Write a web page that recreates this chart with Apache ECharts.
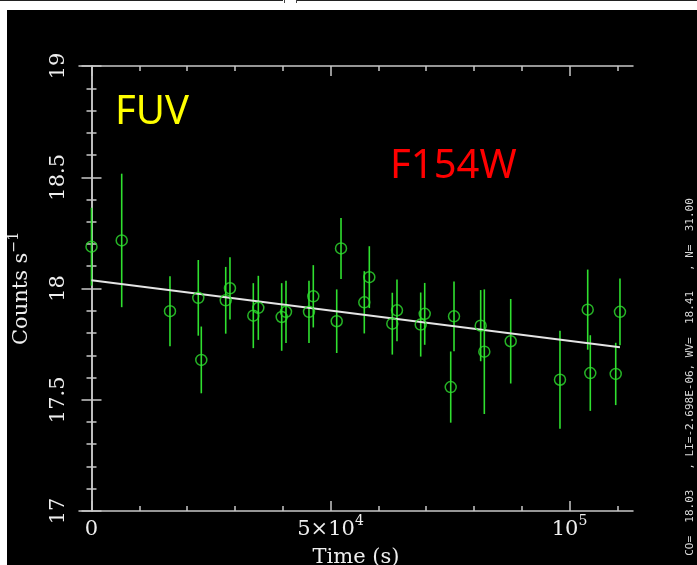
<!DOCTYPE html>
<html><head><meta charset="utf-8">
<script src="https://cdn.jsdelivr.net/npm/echarts@6/dist/echarts.min.js"></script>
<style>html,body{margin:0;padding:0;background:#fff;} #c{width:697px;height:565px;}</style>
</head><body><div id="c"></div>
<script>
// ---- data ----
const times  = [0, 6320, 16420, 22340, 22970, 28080, 28970, 33850, 34900, 39790, 40690,
                45500, 46400, 51300, 52200, 57070, 58120, 62930, 63910, 68870, 69710,
                75150, 75840, 81420, 82180, 87700, 98010, 103810, 104350, 109670, 110560];
const counts = [18.188, 18.216, 17.898, 17.958, 17.679, 17.947, 18.001, 17.878, 17.913, 17.872, 17.895,
                17.895, 17.965, 17.853, 18.180, 17.938, 18.051, 17.842, 17.902, 17.838, 17.886,
                17.557, 17.875, 17.833, 17.716, 17.763, 17.590, 17.905, 17.620, 17.616, 17.895];
const errors = [0.175, 0.30, 0.157, 0.17, 0.15, 0.15, 0.14, 0.146, 0.144, 0.152, 0.14,
                0.14, 0.14, 0.143, 0.137, 0.14, 0.139, 0.139, 0.139, 0.144, 0.139,
                0.16, 0.157, 0.16, 0.28, 0.19, 0.22, 0.18, 0.17, 0.14, 0.15];
const fitTimes  = [0, 110560];
const fitCounts = [18.037, 17.736];
const xMajorTicks = [0, 50000, 100000];
const xTickLabels = ['{a|0}', '{a|5×10}{sup|4}', '{a|10}{sup|5}'];
const xMinorTicks = [10000, 20000, 30000, 40000, 60000, 70000, 80000, 90000, 110000];
const xRange = [-2615, 113285];
const yRange = [17, 19];
const yStep = 0.5;
const statsText = 'CO=  18.03   , LI=-2.698E-06, WV=  18.41   , N=  31.00';

const frameColor = '#c8c8c8';
const serif = '"DejaVu Serif", serif';

const pts = times.map((t, i) => [t, counts[i]]);
const bars = times.map((t, i) => [t, counts[i] - errors[i], counts[i] + errors[i]]);
const fit = fitTimes.map((t, i) => [t, fitCounts[i]]);

function xAxisDef(pos, ticks, len, withLine, withLabel) {
  return {
    type: 'value', position: pos, min: xRange[0], max: xRange[1],
    axisLine: {show: withLine, lineStyle: {color: frameColor, width: 1.5}},
    axisTick: {show: true, inside: true, length: len, customValues: ticks,
               lineStyle: {color: frameColor, width: 1.5}},
    axisLabel: withLabel ? {
      show: true, customValues: xMajorTicks, margin: 3,
      formatter: v => xTickLabels[xMajorTicks.indexOf(v)] || '',
      rich: {
        a: {fontFamily: serif, fontSize: 21, color: '#eeeeee', lineHeight: 32},
        sup: {fontFamily: serif, fontSize: 14, color: '#eeeeee', lineHeight: 10, verticalAlign: 'top'}
      }
    } : {show: false},
    splitLine: {show: false}
  };
}

const chart = echarts.init(document.getElementById('c'), null, {renderer: 'canvas'});
chart.setOption({
  animation: false,
  backgroundColor: '#000',
  grid: {left: 79, right: 64, top: 66, bottom: 54, containLabel: false, outerBoundsMode: 'none'},
  xAxis: [
    Object.assign(xAxisDef('bottom', xMajorTicks, 10, true, true), {
      name: 'Time (s)', nameLocation: 'middle', nameGap: 36,
      nameTextStyle: {fontFamily: serif, fontSize: 21, color: '#eeeeee'}
    }),
    xAxisDef('bottom', xMinorTicks, 5, false, false),
    xAxisDef('top', xMajorTicks, 10, true, false),
    xAxisDef('top', xMinorTicks, 5, false, false)
  ],
  yAxis: [
    {
      type: 'value', position: 'left', min: yRange[0], max: yRange[1], interval: yStep,
      axisLine: {show: true, lineStyle: {color: frameColor, width: 1.5}},
      axisTick: {show: true, inside: true, length: 10, lineStyle: {color: frameColor, width: 1.5}},
      minorTick: {show: true, splitNumber: 5, length: 5, lineStyle: {color: frameColor, width: 1.5}},
      axisLabel: {show: true, rotate: 90, margin: 10, fontFamily: serif, fontSize: 21, color: '#eeeeee'},
      splitLine: {show: false},
      name: '{a|Counts s}{sup|−1}', nameLocation: 'middle', nameRotate: 90, nameGap: 42,
      nameTextStyle: {
        rich: {
          a: {fontFamily: serif, fontSize: 21, color: '#eeeeee', lineHeight: 30},
          sup: {fontFamily: serif, fontSize: 14, color: '#eeeeee', lineHeight: 10, verticalAlign: 'top'}
        }
      }
    },
    {
      type: 'value', position: 'right', min: yRange[0], max: yRange[1], interval: yStep,
      axisLine: {show: true, lineStyle: {color: frameColor, width: 1.5}},
      axisTick: {show: true, inside: true, length: 10, lineStyle: {color: frameColor, width: 1.5}},
      minorTick: {show: true, splitNumber: 5, length: 5, lineStyle: {color: frameColor, width: 1.5}},
      axisLabel: {show: false},
      splitLine: {show: false}
    }
  ],
  series: [
    {
      type: 'custom', xAxisIndex: 0, yAxisIndex: 0, z: 2, data: bars,
      renderItem: (params, api) => {
        const lo = api.coord([api.value(0), api.value(1)]);
        const hi = api.coord([api.value(0), api.value(2)]);
        return {type: 'line', shape: {x1: lo[0], y1: lo[1], x2: hi[0], y2: hi[1]},
                style: {stroke: '#2fe02f', lineWidth: 1.6}};
      }
    },
    {
      type: 'line', xAxisIndex: 0, yAxisIndex: 0, z: 3, data: fit, showSymbol: false,
      symbol: 'none', lineStyle: {color: '#e4e4e4', width: 1.8}
    },
    {
      type: 'scatter', xAxisIndex: 0, yAxisIndex: 0, z: 4, data: pts,
      symbol: 'circle', symbolSize: 11,
      itemStyle: {color: 'rgba(0,0,0,0)', borderColor: '#2fe02f', borderWidth: 1.5}
    }
  ],
  graphic: [
    {type: 'rect', shape: {x: 0, y: 0, width: 697, height: 10}, style: {fill: '#fff'}, z: 0},
    {type: 'rect', shape: {x: 0, y: 0, width: 7, height: 565}, style: {fill: '#fff'}, z: 0},
    {type: 'line', shape: {x1: 0, y1: 0.5, x2: 283, y2: 0.5}, style: {stroke: '#222', lineWidth: 1}},
    {type: 'line', shape: {x1: 297, y1: 0.5, x2: 697, y2: 0.5}, style: {stroke: '#222', lineWidth: 1}},
    {type: 'line', shape: {x1: 284.5, y1: 0, x2: 284.5, y2: 3}, style: {stroke: '#444', lineWidth: 1}},
    {type: 'line', shape: {x1: 296.5, y1: 0, x2: 296.5, y2: 3}, style: {stroke: '#444', lineWidth: 1}},
    {type: 'text', x: 115, y: 113, style: {text: 'FUV', fill: '#ffff00',
      font: '40px "Noto Sans"', align: 'left', verticalAlign: 'middle'}},
    {type: 'text', x: 390, y: 167, style: {text: 'F154W', fill: '#ff0000',
      font: '40px "Noto Sans"', align: 'left', verticalAlign: 'middle'}},
    {type: 'text', x: 690, y: 377, rotation: Math.PI / 2, style: {text: statsText, fill: '#d8d8d8',
      font: '11px "DejaVu Sans Mono"', align: 'center', verticalAlign: 'middle'}}
  ]
});
</script>
</body></html>
